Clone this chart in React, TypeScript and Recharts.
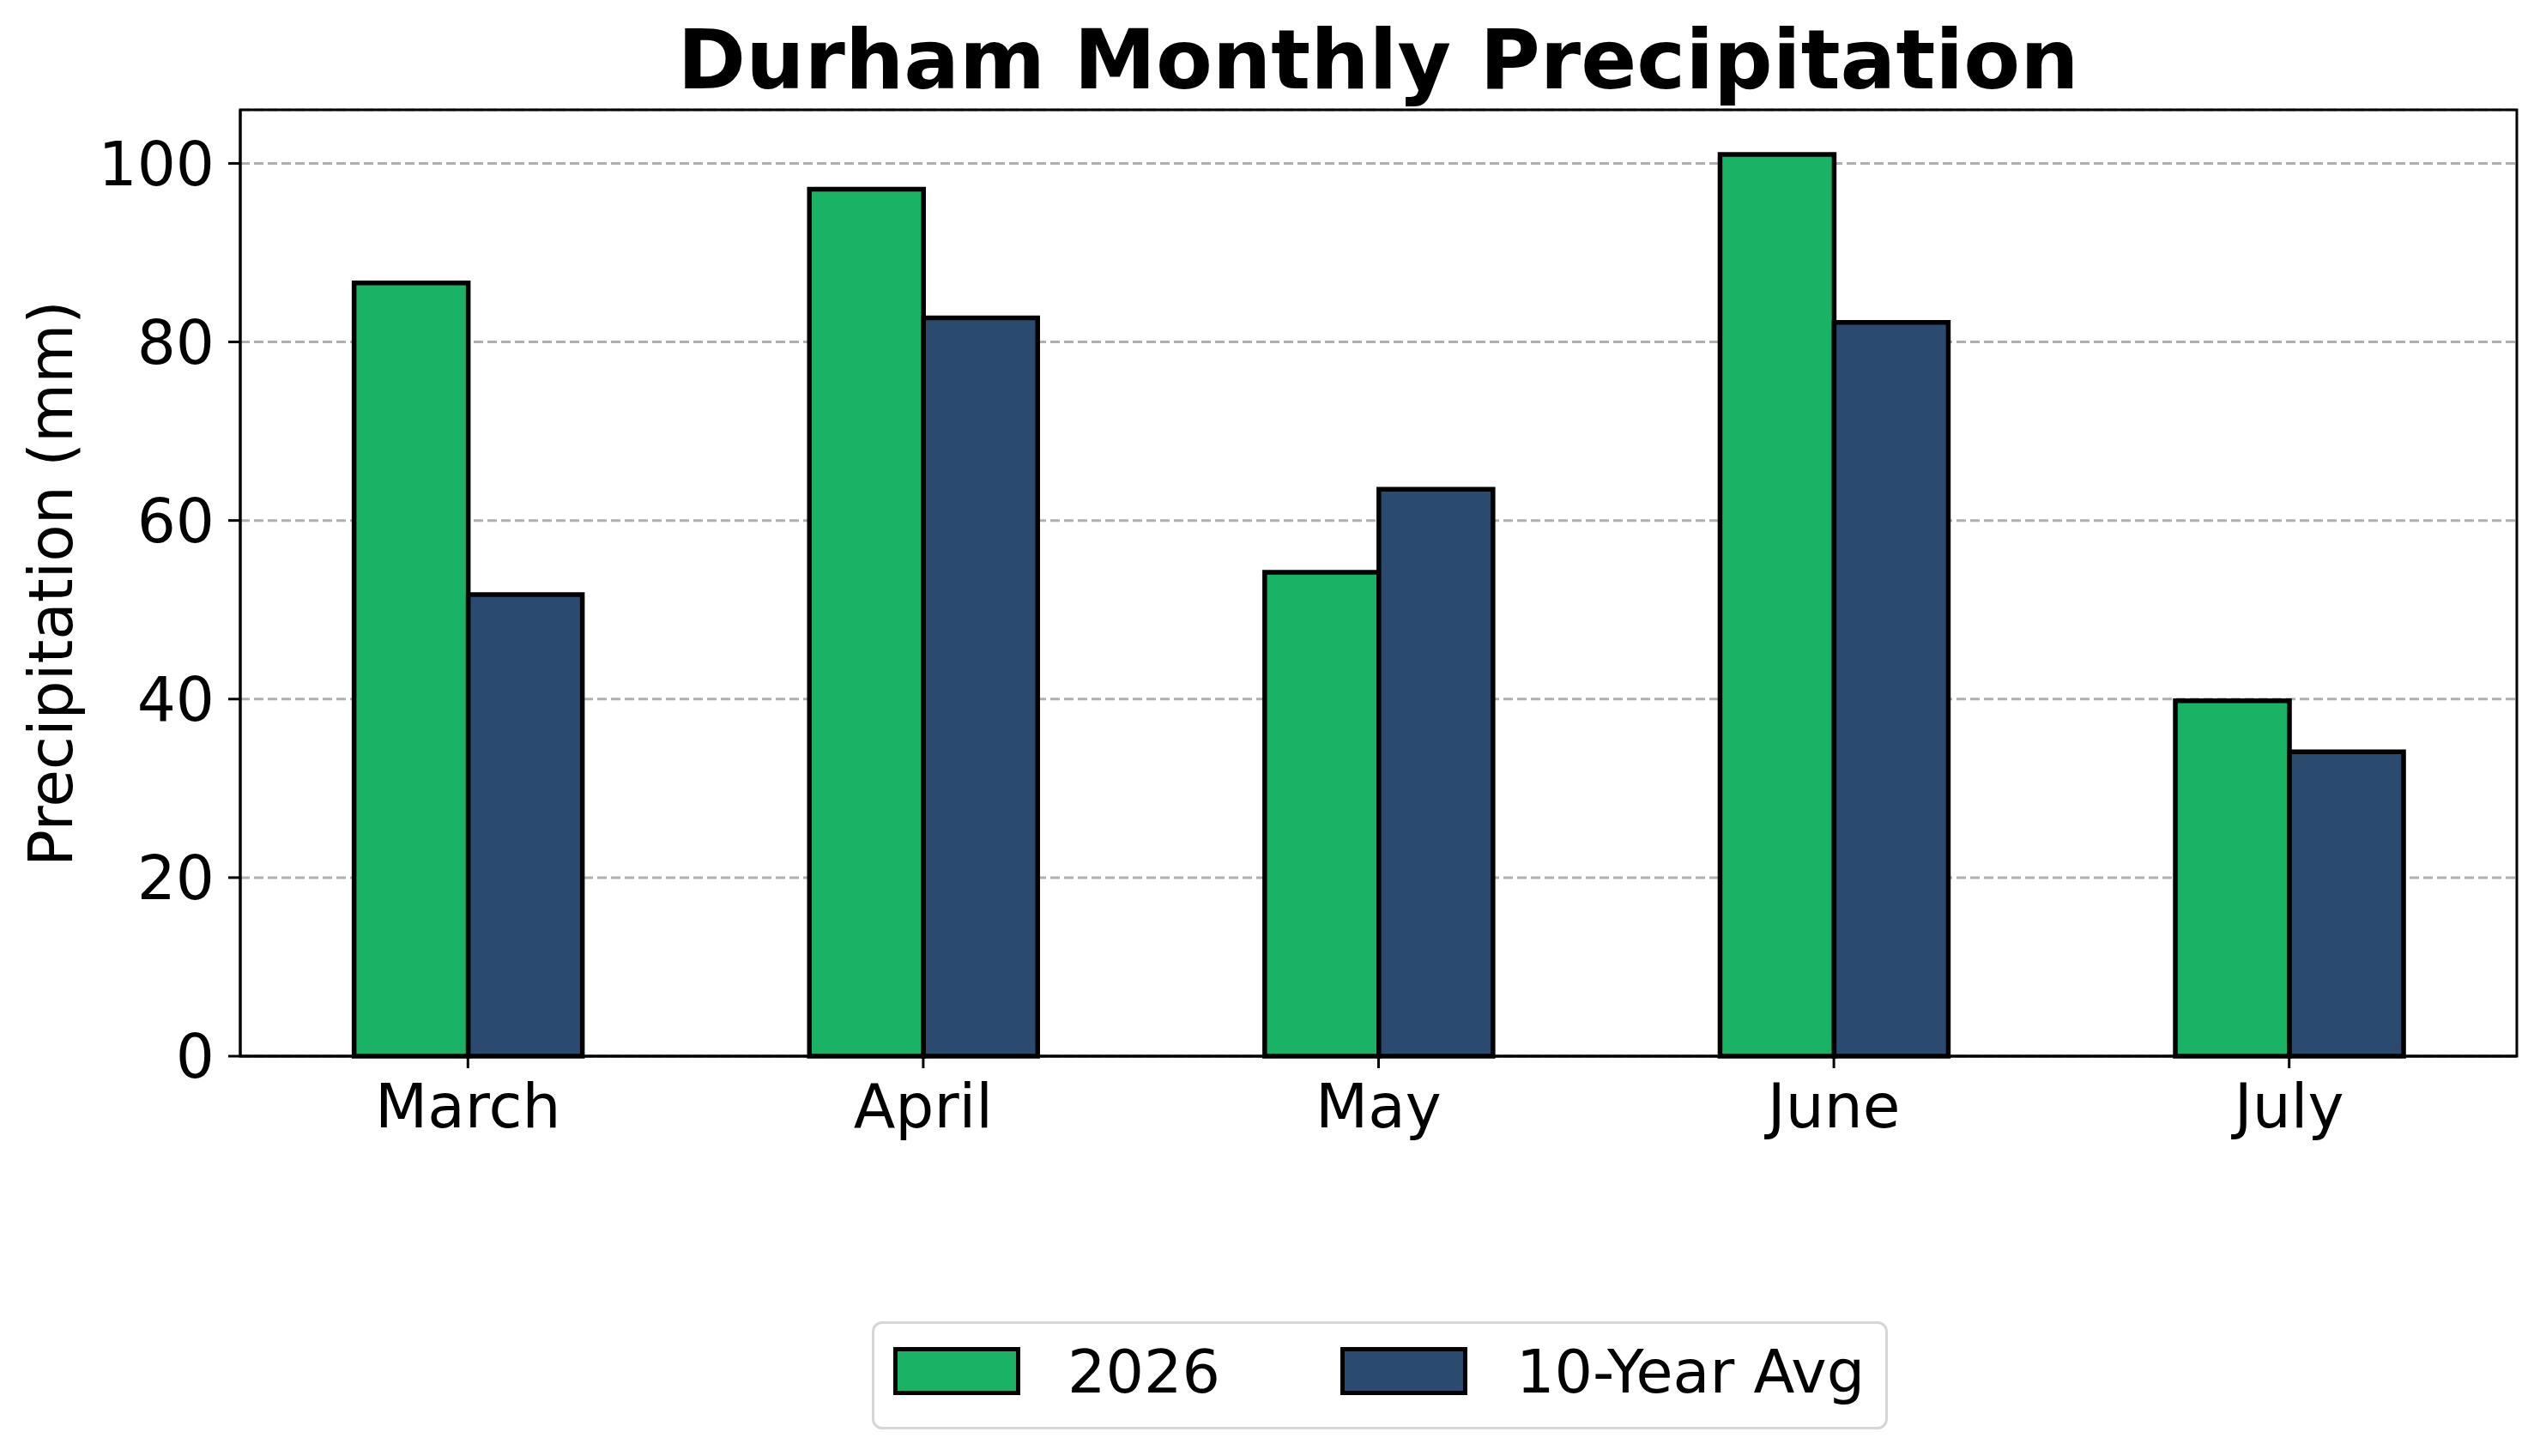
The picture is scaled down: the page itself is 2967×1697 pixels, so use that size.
import { BarChart, Bar, XAxis, YAxis, CartesianGrid, Legend, ReferenceArea, Customized } from "recharts";

const months = ["March", "April", "May", "June", "July"];
const precip2026 = [86.6, 97.1, 54.2, 101.0, 39.8];
const tenYearAvg = [51.7, 82.7, 63.5, 82.2, 34.1];
const yTicks = [0, 20, 40, 60, 80, 100];

const seriesNames = ["2026", "10-Year Avg"];
const seriesColors = ["#1ab366", "#2b4a70"];

const data = months.map((month, i) => ({
  month,
  current: precip2026[i],
  avg: tenYearAvg[i],
}));

const FONT = "DejaVu Sans";
const W = 2967;
const H = 1697;
const Y_MAX = 106;

const Title = () => (
  <g>
    <text x={1606} y={103} textAnchor="middle" fontFamily={FONT} fontSize={96} fontWeight="bold" fill="#000">
      Durham Monthly Precipitation
    </text>
    <text
      transform="translate(84,680) rotate(-90)"
      textAnchor="middle"
      fontFamily={FONT}
      fontSize={71}
      fill="#000"
    >
      Precipitation (mm)
    </text>
  </g>
);

// legend keeps the series order, colours come from the payload
const LegendBox = ({ payload }: any) => {
  const items = seriesNames.map((name, i) => {
    const hit = (payload || []).find((p: any) => p.value === name);
    return { value: name, color: hit ? hit.color : seriesColors[i] };
  });
  const swatchX = [22, 543];
  const textX = [225, 748];
  return (
    <div
      style={{
        position: "relative",
        width: "100%",
        height: "100%",
        boxSizing: "border-box",
        border: "3px solid #d6d6d6",
        borderRadius: 12,
        background: "#fff",
        fontFamily: FONT,
        fontSize: 70,
      }}
    >
      {items.map((entry, i) => (
        <div key={entry.value}>
          <div
            style={{
              position: "absolute",
              left: swatchX[i],
              top: 27,
              width: 148,
              height: 56,
              boxSizing: "border-box",
              border: "5.5px solid #000",
              background: entry.color,
            }}
          />
          <div
            style={{
              position: "absolute",
              left: textX[i],
              top: 0,
              height: 112,
              lineHeight: "112px",
              color: "#000",
              whiteSpace: "nowrap",
            }}
          >
            {entry.value}
          </div>
        </div>
      ))}
    </div>
  );
};

const tickStyle = { fontSize: 71, fontFamily: FONT, fill: "#000" };

export default function App() {
  return (
    <div style={{ position: "absolute", left: 0, top: 0, width: W, height: H, background: "#fff" }}>
      <BarChart
        width={W}
        height={H}
        data={data}
        margin={{ top: 128, right: 34, left: 0, bottom: 220 }}
        barCategoryGap="25%"
        barGap={0}
      >
        <CartesianGrid vertical={false} stroke="#b0b0b0" strokeWidth={3} strokeDasharray="11 5" />
        <XAxis
          dataKey="month"
          height={120}
          tick={tickStyle}
          tickSize={14}
          tickMargin={19}
          axisLine={{ stroke: "#000", strokeWidth: 3 }}
          tickLine={{ stroke: "#000", strokeWidth: 3 }}
        />
        <YAxis
          width={280}
          domain={[0, Y_MAX]}
          ticks={yTicks}
          tick={tickStyle}
          tickSize={14}
          tickMargin={16}
          axisLine={{ stroke: "#000", strokeWidth: 3 }}
          tickLine={{ stroke: "#000", strokeWidth: 3 }}
        />
        <Bar
          dataKey="current"
          name={seriesNames[0]}
          fill={seriesColors[0]}
          stroke="#000"
          strokeWidth={5.5}
          isAnimationActive={false}
        />
        <Bar
          dataKey="avg"
          name={seriesNames[1]}
          fill={seriesColors[1]}
          stroke="#000"
          strokeWidth={5.5}
          isAnimationActive={false}
        />
        <ReferenceArea y1={0} y2={Y_MAX} fill="none" fillOpacity={0} stroke="#000" strokeWidth={3} />
        <Legend
          verticalAlign="bottom"
          content={<LegendBox />}
          wrapperStyle={{ position: "absolute", left: 1016, top: 1540, width: 1184, height: 126 }}
        />
        <Customized component={Title} />
      </BarChart>
    </div>
  );
}
